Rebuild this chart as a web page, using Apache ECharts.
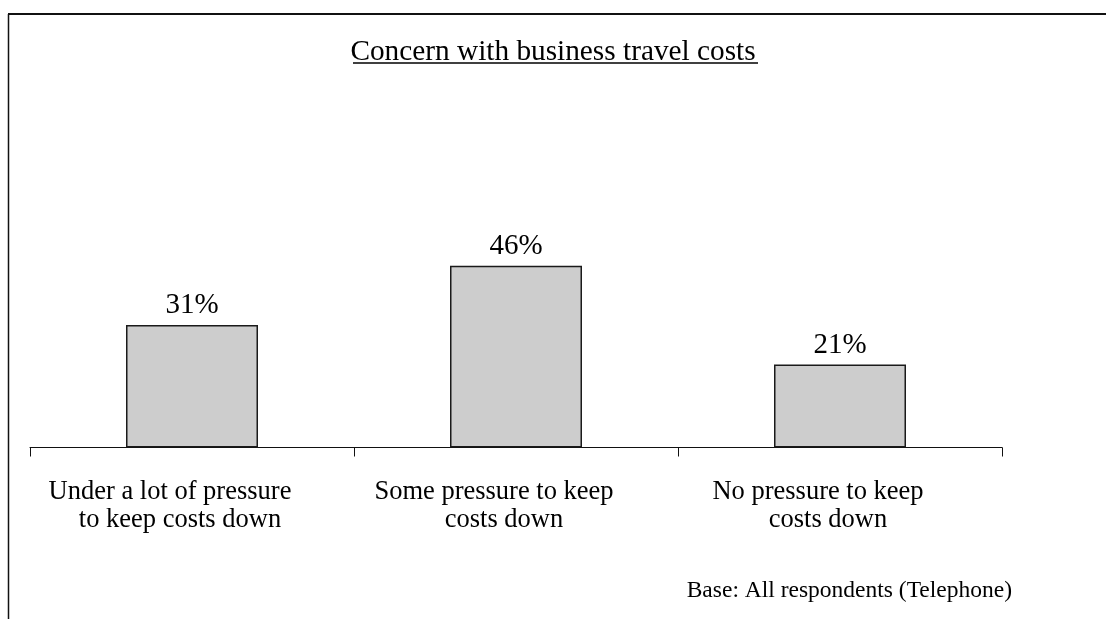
<!DOCTYPE html>
<html>
<head>
<meta charset="utf-8">
<style>
  html, body { margin: 0; padding: 0; background: #ffffff; }
  #chart { width: 1106px; height: 619px; }
</style>
<script src="https://cdn.jsdelivr.net/npm/echarts@6/dist/echarts.min.js"></script>
</head>
<body>
<div id="chart"></div>
<script>
// Survey answers: how much pressure respondents feel to keep travel costs down
const titleText = 'Concern with business travel costs';
const categories = [
  ['Under a lot of pressure', 'to keep costs down'],
  ['Some pressure to keep', 'costs down'],
  ['No pressure to keep', 'costs down']
];
const shares = [31, 46, 21];
const baseNote = 'Base: All respondents (Telephone)';

const serif = '"Liberation Serif", "Times New Roman", serif';
const chart = echarts.init(document.getElementById('chart'));

chart.setOption({
  backgroundColor: '#ffffff',
  animation: false,
  title: {
    text: titleText,
    left: 'center',
    top: 33,
    textStyle: { fontFamily: serif, fontSize: 29.3, fontWeight: 'normal', color: '#000' }
  },
  grid: { left: 30, right: 104, top: 52.5, bottom: 171.5, containLabel: false },
  xAxis: {
    type: 'category',
    data: categories.map(c => c.join('\n')),
    boundaryGap: true,
    axisLine: { lineStyle: { color: '#111', width: 1 } },
    axisTick: { show: true, length: 9, lineStyle: { color: '#111', width: 1 } },
    axisLabel: {
      interval: 0,
      margin: 31,
      formatter: (v) => {
        const lines = v.split('\n');
        return '{a|' + lines[0] + '}\n{b|' + lines[1] + '}';
      },
      rich: {
        a: { fontFamily: serif, fontSize: 26.5, lineHeight: 28, color: '#000', padding: [0, 44, 0, 0] },
        b: { fontFamily: serif, fontSize: 26.5, lineHeight: 28, color: '#000', padding: [0, 24, 0, 0] }
      }
    }
  },
  yAxis: {
    type: 'value',
    min: 0,
    max: 100,
    show: false,
    splitLine: { show: false }
  },
  series: [{
    type: 'bar',
    data: shares,
    barWidth: 132,
    itemStyle: { color: '#cdcdcd', borderColor: '#1a1a1a', borderWidth: 1.5 },
    label: {
      show: true,
      position: 'top',
      distance: 5,
      formatter: (p) => p.value + '%',
      fontFamily: serif,
      fontSize: 29,
      color: '#000'
    }
  }],
  graphic: [
    // frame: top and left edges
    { type: 'line', shape: { x1: 8, y1: 14, x2: 1106, y2: 14 }, style: { stroke: '#111', lineWidth: 2 } },
    { type: 'line', shape: { x1: 8.5, y1: 14, x2: 8.5, y2: 619 }, style: { stroke: '#111', lineWidth: 1.5 } },
    // title underline
    { type: 'line', shape: { x1: 353, y1: 63, x2: 758, y2: 63 }, style: { stroke: '#000', lineWidth: 1.5 } },
    {
      type: 'text',
      x: 1012,
      y: 591,
      style: { text: baseNote, font: '23.5px ' + serif, fill: '#000', align: 'right', verticalAlign: 'middle' }
    }
  ]
});
</script>
</body>
</html>
